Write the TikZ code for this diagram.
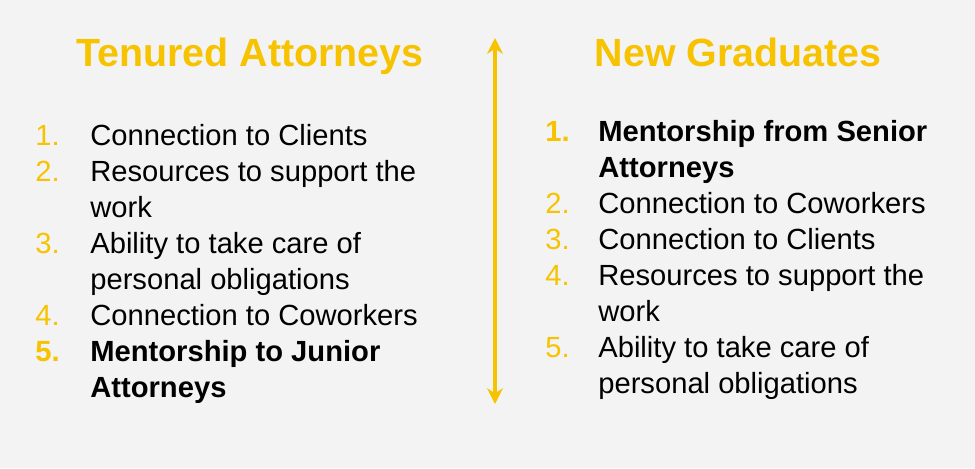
\documentclass[tikz,border=0pt]{standalone}
\usepackage{fontspec}
\setmainfont{Liberation Sans}
\usetikzlibrary{arrows.meta}
\definecolor{gold}{HTML}{F7C300}
\definecolor{panel}{HTML}{F3F3F3}
\tikzstyle{title} = [font=\fontsize{22.4}{26}\selectfont\bfseries, text=gold, anchor=base]
\tikzstyle{num} = [font=\fontsize{16.6}{20.5}\selectfont, text=gold, anchor=base west, inner sep=0]
\tikzstyle{item} = [font=\fontsize{16.6}{20.5}\selectfont, anchor=base west, inner sep=0]
\tikzstyle{bolditem} = [item, font=\fontsize{16.6}{20.5}\selectfont\bfseries]
\tikzstyle{boldnum} = [num, font=\fontsize{16.6}{20.5}\selectfont\bfseries]
\begin{document}
\begin{tikzpicture}[x=0.02cm, y=-0.02cm]
    \useasboundingbox (0,0) rectangle (975,468);
    \fill[panel] (0,0) rectangle (975,468);
    \draw (250,66) node[title] (T) {Tenured Attorneys};
    \draw (738,66) node[title] (G) {New Graduates};
    % left list
    \draw (35,145) node[num] (L1) {1.};
    \draw (90,145) node[item] (A1) {Connection to Clients};
    \draw (35,181) node[num] (L2) {2.};
    \draw (90,181) node[item] (A2a) {Resources to support the};
    \draw (90,217) node[item] (A2b) {work};
    \draw (35,253) node[num] (L3) {3.};
    \draw (90,253) node[item] (A3a) {Ability to take care of};
    \draw (90,289) node[item] (A3b) {personal obligations};
    \draw (35,325) node[num] (L4) {4.};
    \draw (90,325) node[item] (A4) {Connection to Coworkers};
    \draw (35,361) node[boldnum] (L5) {5.};
    \draw (90,361) node[bolditem] (A5a) {Mentorship to Junior};
    \draw (90,397) node[bolditem] (A5b) {Attorneys};
    % right list
    \draw (545,141) node[boldnum] (R1) {1.};
    \draw (598,141) node[bolditem] (B1a) {Mentorship from Senior};
    \draw (598,177) node[bolditem] (B1b) {Attorneys};
    \draw (545,213) node[num] (R2) {2.};
    \draw (598,213) node[item] (B2) {Connection to Coworkers};
    \draw (545,249) node[num] (R3) {3.};
    \draw (598,249) node[item] (B3) {Connection to Clients};
    \draw (545,285) node[num] (R4) {4.};
    \draw (598,285) node[item] (B4a) {Resources to support the};
    \draw (598,321) node[item] (B4b) {work};
    \draw (545,357) node[num] (R5) {5.};
    \draw (598,357) node[item] (B5a) {Ability to take care of};
    \draw (598,393) node[item] (B5b) {personal obligations};
    \coordinate (top) at (495,38);
    \coordinate (bot) at (495,404);
    \draw[gold, line width=1.8pt, {Stealth[length=9pt,width=9pt]}-{Stealth[length=9pt,width=9pt]}] (top) -- (bot);
\end{tikzpicture}
\end{document}
